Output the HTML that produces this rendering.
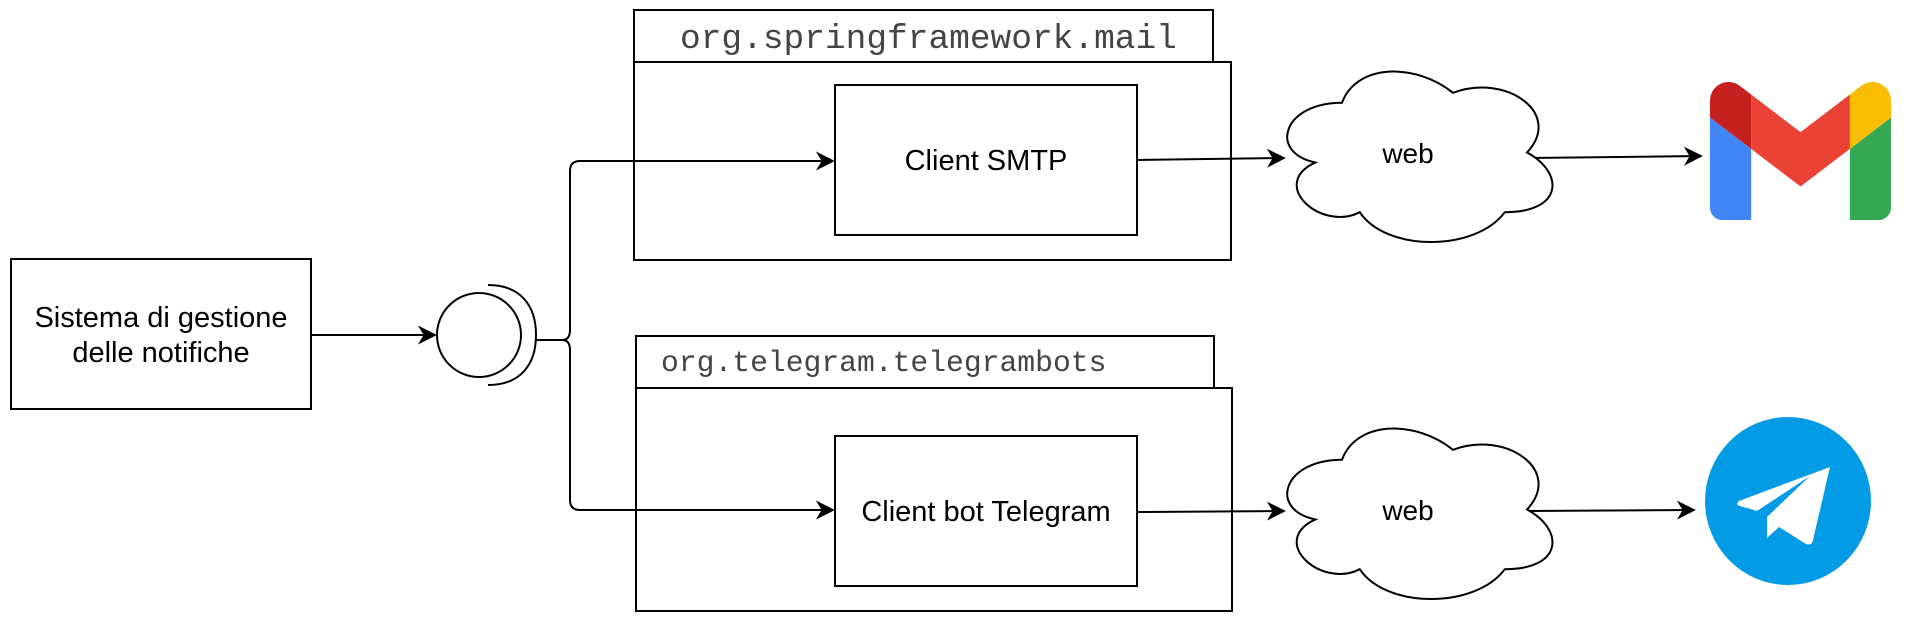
<!DOCTYPE html>
<html><head><meta charset="utf-8"><style>
html,body{margin:0;padding:0;background:#fff;width:1908px;height:625px;overflow:hidden}
text{font-family:"Liberation Sans",Arial,sans-serif}
.m{font-family:"Liberation Mono","Courier New",monospace;fill:#444}
</style></head><body>
<svg width="1908" height="625" viewBox="0 0 1908 625" xmlns="http://www.w3.org/2000/svg">
<defs><marker id="a" viewBox="0 0 10 10" refX="9" refY="5" markerWidth="19" markerHeight="19" markerUnits="userSpaceOnUse" orient="auto"><path d="M0,0 L10,5 L0,10 L3,5 z" fill="#000"/></marker></defs>
<g fill="none" stroke="#000" stroke-width="2">
<rect x="11" y="259" width="300" height="150" fill="#fff"/>
<line x1="311" y1="335" x2="435" y2="335" marker-end="url(#a)"/>
<circle cx="479" cy="335" r="42"/>
<path d="M488 285 C520 285 536 305 536 335 C536 365 520 385 488 385"/>
<path d="M536 340 L562 340 Q570 340 570 330 L570 171 Q570 161 580 161 L833 161" marker-end="url(#a)"/>
<path d="M562 340 Q570 340 570 350 L570 500 Q570 510 580 510 L833 510" marker-end="url(#a)"/>
<rect x="634" y="10" width="579" height="52"/>
<rect x="634" y="62" width="597" height="198"/>
<line x1="634" y1="161" x2="833" y2="161"/>
<rect x="835" y="85" width="302" height="150" fill="#fff"/>
<rect x="636" y="336" width="578" height="52"/>
<rect x="636" y="388" width="596" height="223"/>
<line x1="636" y1="510" x2="833" y2="510"/>
<rect x="835" y="436" width="302" height="150" fill="#fff"/>
<line x1="1137" y1="160" x2="1284" y2="158" marker-end="url(#a)"/>
<line x1="1137" y1="512" x2="1284" y2="511" marker-end="url(#a)"/>
<line x1="1529" y1="158" x2="1701" y2="156" marker-end="url(#a)"/>
<line x1="1526" y1="511" x2="1694" y2="510" marker-end="url(#a)"/>
<g transform="translate(1268,53) scale(296,199)"><path vector-effect="non-scaling-stroke" d="M0.25 0.25 C0.05 0.25 0 0.5 0.16 0.55 C0 0.66 0.18 0.9 0.31 0.8 C0.4 1 0.7 1 0.8 0.8 C1 0.8 1 0.6 0.875 0.5 C1 0.3 0.8 0.1 0.625 0.2 C0.5 0.05 0.3 0.05 0.25 0.25 Z" fill="#fff"/></g>
<g transform="translate(1268,410) scale(296,199)"><path vector-effect="non-scaling-stroke" d="M0.25 0.25 C0.05 0.25 0 0.5 0.16 0.55 C0 0.66 0.18 0.9 0.31 0.8 C0.4 1 0.7 1 0.8 0.8 C1 0.8 1 0.6 0.875 0.5 C1 0.3 0.8 0.1 0.625 0.2 C0.5 0.05 0.3 0.05 0.25 0.25 Z" fill="#fff"/></g>
</g>
<text x="161" y="327" font-size="29" text-anchor="middle">Sistema di gestione</text>
<text x="161" y="362" font-size="29" text-anchor="middle">delle notifiche</text>
<text x="986" y="170" font-size="29" text-anchor="middle">Client SMTP</text>
<text x="986" y="521" font-size="29" text-anchor="middle">Client bot Telegram</text>
<text x="1408" y="163" font-size="28" text-anchor="middle">web</text>
<text x="1408" y="520" font-size="28" text-anchor="middle">web</text>
<text class="m" x="680" y="48" font-size="34.5">org.springframework.mail</text>
<text class="m" x="661" y="371" font-size="29.7">org.telegram.telegrambots</text>
<svg x="1710" y="82" width="181" height="138" viewBox="52 42 88 66" preserveAspectRatio="none">
<path fill="#4285f4" d="M58 108h14V74L52 59v43c0 3.32 2.690 6 6 6"/>
<path fill="#34a853" d="M120 108h14c3.32 0 6-2.69 6-6V59l-20 15"/>
<path fill="#fbbc04" d="M120 48v26l20-15v-8c0-7.420-8.47-11.650-14.4-7.2"/>
<path fill="#ea4335" d="M72 74V48l24 18 24-18v26L96 92"/>
<path fill="#c5221f" d="M52 51v8l20 15V48l-5.6-4.2c-5.94-4.45-14.4-.22-14.4 7.2"/>
</svg>
<ellipse cx="1788" cy="501" rx="83" ry="84" fill="#039be5"/>
<path d="M1830 467 L1739 501 Q1735 504 1740 506 L1757 511 L1810 476 L1767 517 L1767 538 L1779 527 L1806 544 Q1812 546 1813 540 Z" fill="#fff"/>
</svg>
</body></html>
